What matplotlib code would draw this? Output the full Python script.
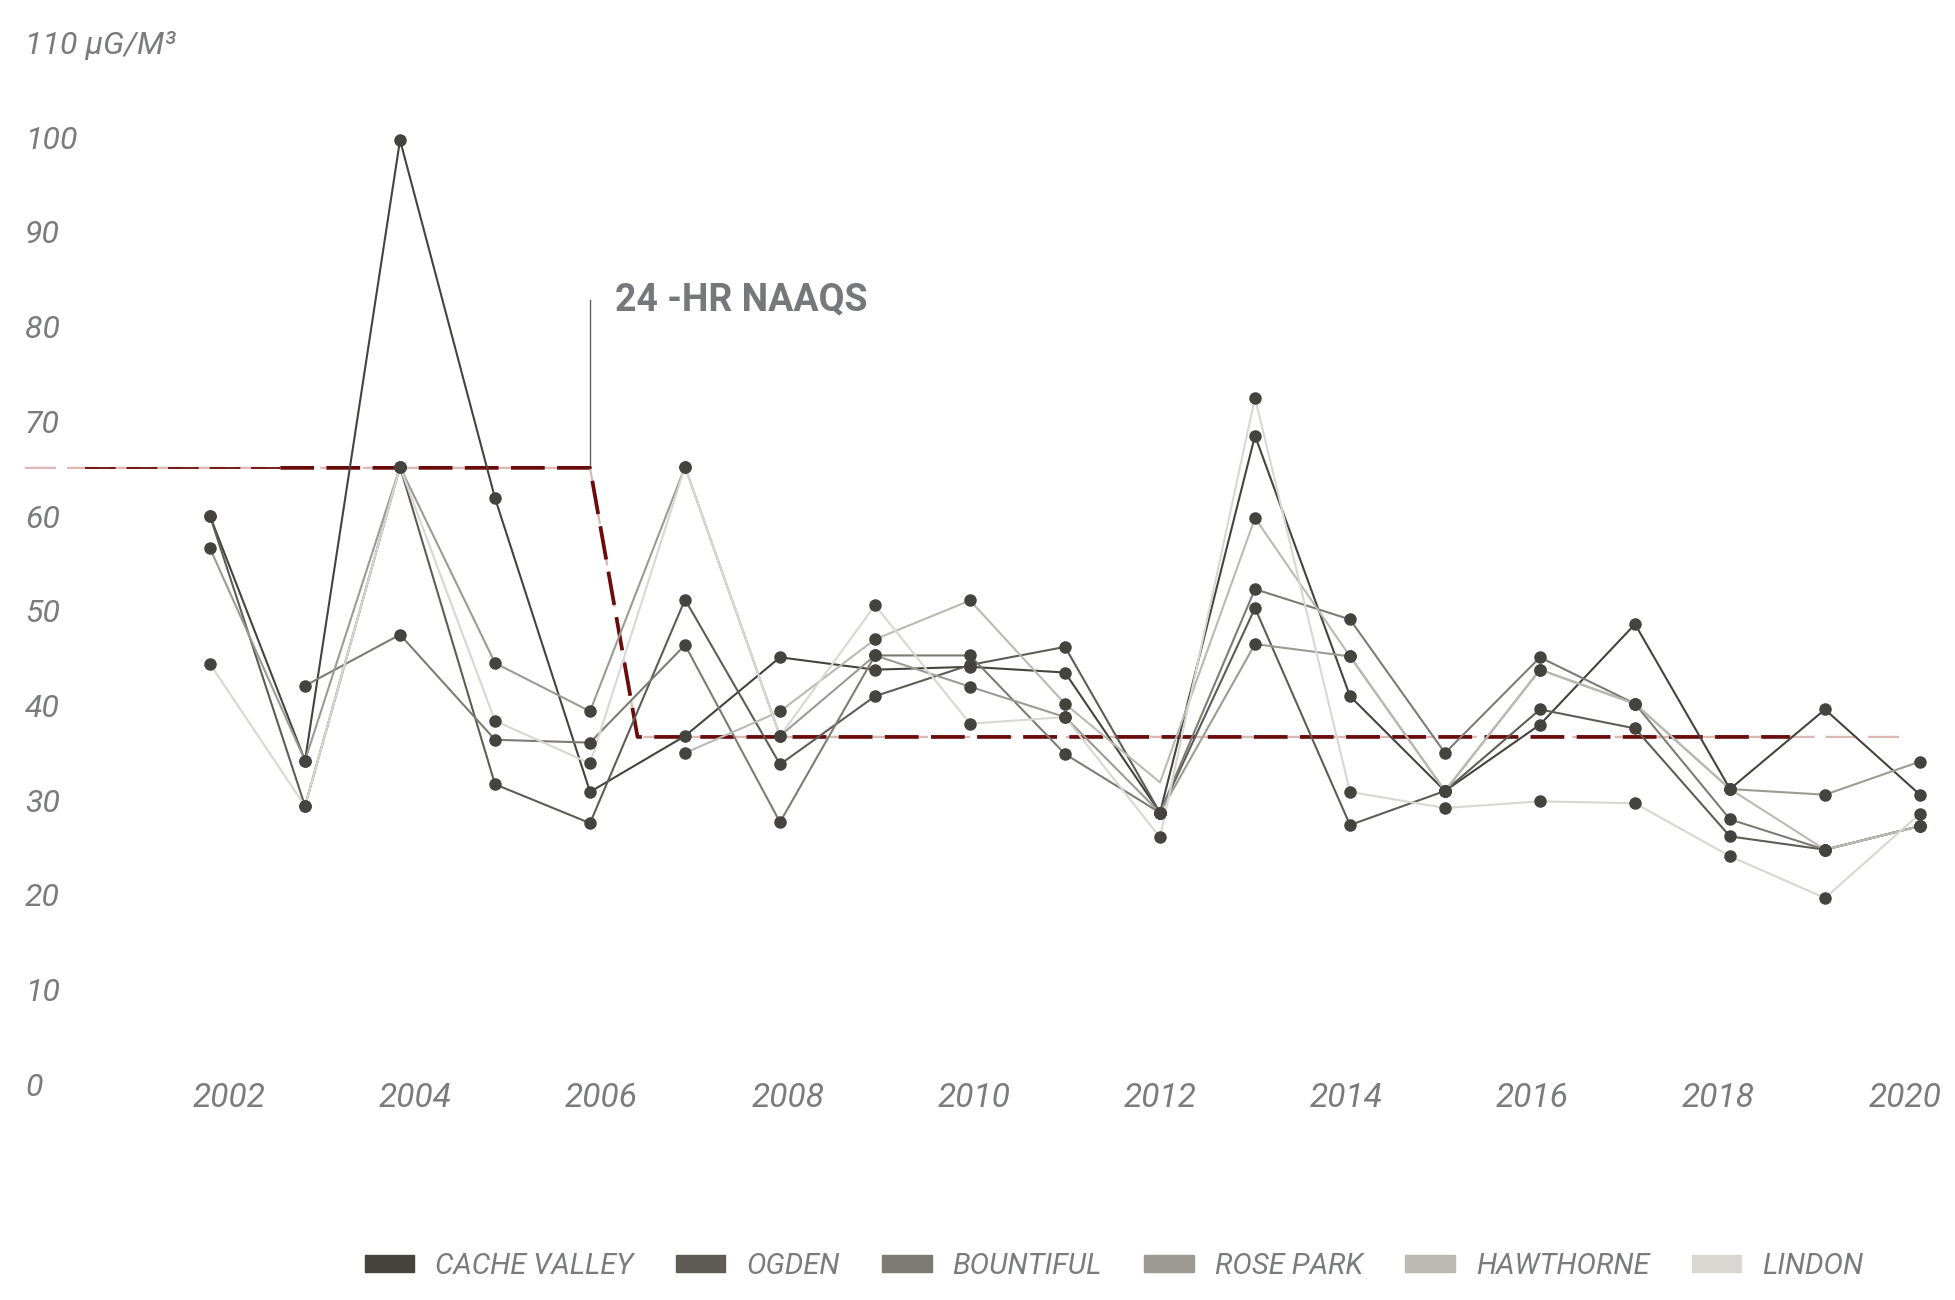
import numpy as np
import matplotlib
matplotlib.use("Agg")
import matplotlib.pyplot as plt
from matplotlib.patches import Rectangle

nan = np.nan
years = list(range(2002, 2021))

names = ["CACHE VALLEY", "OGDEN", "BOUNTIFUL", "ROSE PARK", "HAWTHORNE", "LINDON"]
colors = ["#45433e", "#5f5c55", "#7e7b75", "#9c9a93", "#bab9b2", "#d9d7d2"]

cache_valley = [60.3, 34.5, 100.0, 62.2, 31.2, 37.1, 45.4, 44.1, 44.4, 43.8,
                29.0, 68.8, 41.3, 31.3, 38.3, 48.9, 31.5, 39.9, 30.9]
ogden = [60.3, 29.7, 65.5, 32.0, 27.9, 51.5, 34.1, 41.3, 44.6, 46.5,
         29.0, 50.6, 27.7, 31.3, 39.9, 37.9, 26.5, 25.1, 27.6]
bountiful = [nan, 42.4, 47.8, 36.7, 36.4, 46.7, 28.0, 45.6, 45.6, 35.2,
             29.0, 52.6, 49.4, 35.3, 45.4, 40.5, 28.3, 25.1, 27.6]
rose_park = [56.9, 34.5, 65.5, 44.8, 39.7, 65.5, 37.1, 45.6, 42.3, 39.1,
             29.0, 46.8, 45.5, 31.3, 44.1, 40.5, 31.5, 30.9, 34.4]
hawthorne = [nan, nan, nan, nan, nan, 35.3, 39.7, 47.3, 51.4, 40.5,
             32.2, 60.1, 45.5, 31.3, 44.1, 40.5, 31.5, 25.1, 27.6]
lindon = [44.7, 29.7, 65.5, 38.7, 34.2, 65.5, 37.1, 50.9, 38.4, 39.1,
          26.4, 72.8, 31.2, 29.5, 30.2, 30.0, 24.4, 20.0, 28.9]
series = [cache_valley, ogden, bountiful, rose_park, hawthorne, lindon]
no_dot = {"HAWTHORNE": [2012]}  # vertex drawn without a dot in the original

# 24-hr NAAQS reference line
naaqs_x = [2000.05, 2006.0, 2006.5, 2019.85]
naaqs_y = [65.4, 65.4, 37.0, 37.0]
naaqs_dark_x = [2002.74, 2006.0, 2006.5, 2018.63]
naaqs_thin_x = [2000.68, 2002.74]

y_ticks = [0, 10, 20, 30, 40, 50, 60, 70, 80, 90, 100]
x_ticks = [2002, 2004, 2006, 2008, 2010, 2012, 2014, 2016, 2018, 2020]

tick_font = dict(family=["Roboto", "DejaVu Sans"], style="italic", weight="normal")
tick_color = "#7a7b7e"

fig = plt.figure(figsize=(19.56, 13), dpi=100)
ax = fig.add_axes([0, 0, 1, 1])
ax.set_xlim(1999.789, 2020.379)
ax.set_ylim(-22.43, 114.78)
ax.axis("off")

# reference line: faint full path, dark overlay
ax.plot(naaqs_x, naaqs_y, color="#dcb8b3", lw=1.6, dashes=(14, 5), zorder=1)
ax.plot(naaqs_thin_x, [naaqs_y[0]] * 2, color="#6b0c0c", lw=1.3, dashes=(17, 6), zorder=1.1)
ax.plot(naaqs_dark_x, naaqs_y, color="#6b0c0c", lw=2.7, dashes=(9, 3.3), zorder=1.1)

ax.plot([2006.0, 2006.0], [naaqs_y[0], 83.1], color="#5e5e5e", lw=1.0, zorder=1)
ax.text(2006.26, 83.1, "24 -HR NAAQS", fontsize=27, fontweight="bold",
        family=["Roboto", "DejaVu Sans"], color="#77787b", ha="left", va="center")

for name, vals, c in zip(names, series, colors):
    ax.plot(years, vals, color=c, lw=1.5, zorder=2)

for name, vals in zip(names, series):
    xs = [x for x, v in zip(years, vals) if not np.isnan(v) and x not in no_dot.get(name, [])]
    vs = [v for x, v in zip(years, vals) if not np.isnan(v) and x not in no_dot.get(name, [])]
    ax.plot(xs, vs, "o", color="#45433e", ms=8, mec="#45433e", zorder=5)

# axis labels
for t in y_ticks:
    ax.text(25 / 1956, t, str(t), transform=ax.get_yaxis_transform(),
            fontsize=23, color=tick_color, ha="left", va="center", **tick_font)
ax.text(25 / 1956, 110, "110 µG/M³", transform=ax.get_yaxis_transform(),
        fontsize=23, color=tick_color, ha="left", va="center", **tick_font)
for yr in x_ticks:
    ax.text(2002.2 + 0.98 * (yr - 2002), -1.06, str(yr), fontsize=24,
            color=tick_color, ha="center", va="center", **tick_font)

handles = [Rectangle((0, 0), 1, 1, color=c) for c in colors]
leg = fig.legend(handles, names, loc="center", bbox_to_anchor=(0.5695, 0.026),
                 ncol=6, frameon=False, handlelength=1.7, handleheight=0.52,
                 handletextpad=0.72, columnspacing=1.45,
                 prop=dict(family=["Roboto", "DejaVu Sans"],
                           style="italic", weight="normal", size=21))
for t in leg.get_texts():
    t.set_color(tick_color)

fig.savefig("out.png", dpi=100, facecolor="white")
